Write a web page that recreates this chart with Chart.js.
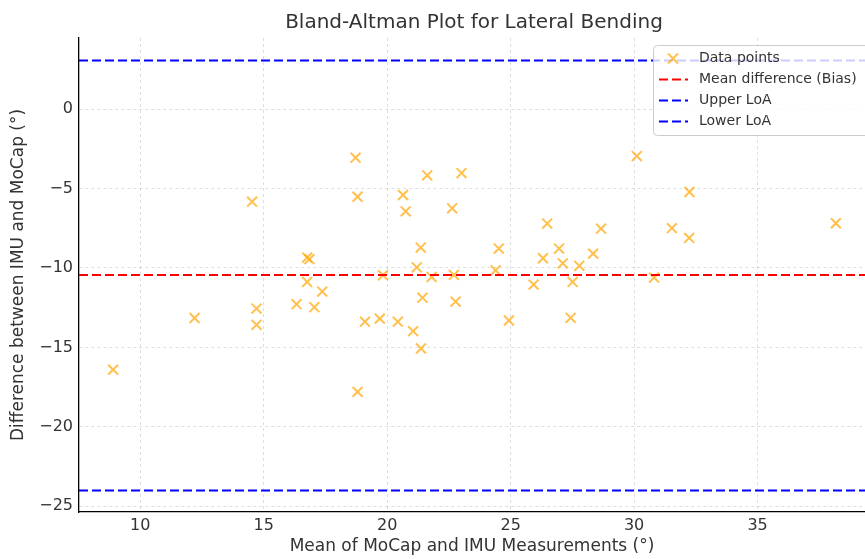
<!DOCTYPE html>
<html>
<head>
<meta charset="utf-8">
<title>Bland-Altman Plot for Lateral Bending</title>
<script src="https://cdn.jsdelivr.net/npm/chart.js@4.4.1/dist/chart.umd.min.js"></script>
<style>
    body { margin: 0; background: #fff; }
    canvas { display: block; }
</style>
</head>
<body>
<canvas id="baChart" width="865" height="559"></canvas>
<script>
// Mean of MoCap and IMU (x) and their difference (y)
const MEAN_VALUES = [8.9, 12.2, 14.53, 14.71, 14.71, 16.33, 16.76, 16.85, 16.76, 17.05,
    17.37, 18.72, 18.80, 18.80, 19.1, 19.70, 19.83, 20.43, 20.64, 20.75,
    21.05, 21.2, 21.36, 21.43, 21.37, 21.62, 21.80, 22.63, 22.70, 22.77,
    23.01, 24.39, 24.52, 24.93, 25.93, 26.31, 26.48, 26.96, 27.11, 27.43,
    27.51, 27.78, 28.34, 28.66, 30.11, 30.81, 31.53, 32.24, 32.23, 38.17];
const DIFF_VALUES = [-16.4, -13.15, -5.83, -12.56, -13.58, -12.28, -9.35, -9.45, -10.88, -12.47,
    -11.49, -3.06, -5.52, -17.8, -13.38, -13.19, -10.46, -13.38, -5.41, -6.44,
    -13.98, -9.96, -8.72, -11.87, -15.07, -4.17, -10.57, -6.25, -10.44, -12.12,
    -4.03, -10.15, -8.78, -13.31, -11.05, -9.39, -7.21, -8.78, -9.71, -13.14,
    -10.88, -9.87, -9.1, -7.53, -2.96, -10.61, -7.5, -5.22, -8.11, -7.19];

// Reference lines
const BIAS = -10.45;
const UPPER_LOA = 3.06;
const LOWER_LOA = -24.0;

// Axis ranges and ticks
const X_RANGE = [7.52, 39.35];
const Y_RANGE = [-25.36, 4.47];
const X_TICKS = [10, 15, 20, 25, 30, 35];
const Y_TICKS = [-25, -20, -15, -10, -5, 0];

const FONT = 'DejaVu Sans';
const TEXT_COLOR = '#333333';
const GRID_COLOR = 'rgba(0, 0, 0, 0.13)';
const POINT_COLOR = 'rgba(255, 165, 0, 0.7)';

function hLine(value) {
    return X_RANGE.map(x => ({ x: x, y: value }));
}

function fmtTick(v) {
    return v < 0 ? '\u2212' + Math.abs(v) : String(v);
}

// Title + legend box drawn over the plot, matplotlib style
const overlayPlugin = {
    id: 'overlay',
    afterDraw(chart) {
        const ctx = chart.ctx;
        ctx.save();

        // Title
        ctx.fillStyle = TEXT_COLOR;
        ctx.font = '20px "' + FONT + '"';
        ctx.textAlign = 'center';
        ctx.textBaseline = 'middle';
        ctx.fillText('Bland-Altman Plot for Lateral Bending', 474, 23);

        // Legend box
        const bx = 653.5, by = 45.5, bw = 230, bh = 90;
        ctx.beginPath();
        ctx.roundRect(bx, by, bw, bh, 4);
        ctx.fillStyle = 'rgba(255, 255, 255, 0.8)';
        ctx.fill();
        ctx.strokeStyle = '#cccccc';
        ctx.lineWidth = 1;
        ctx.stroke();

        const rowY = [58.5, 79.5, 100.5, 121.5];
        chart.data.datasets.forEach((ds, i) => {
            const y = rowY[i];
            if (ds.showLine) {
                ctx.beginPath();
                ctx.setLineDash(ds.borderDash);
                ctx.strokeStyle = ds.borderColor;
                ctx.lineWidth = ds.borderWidth;
                ctx.moveTo(659, y);
                ctx.lineTo(688, y);
                ctx.stroke();
                ctx.setLineDash([]);
            } else {
                const r = 5;
                ctx.beginPath();
                ctx.strokeStyle = POINT_COLOR;
                ctx.lineWidth = 2;
                ctx.moveTo(673 - r, y - r);
                ctx.lineTo(673 + r, y + r);
                ctx.moveTo(673 - r, y + r);
                ctx.lineTo(673 + r, y - r);
                ctx.stroke();
            }
            ctx.fillStyle = TEXT_COLOR;
            ctx.font = '14px "' + FONT + '"';
            ctx.textAlign = 'left';
            ctx.fillText(ds.label, 699, y);
        });
        ctx.restore();
    }
};

const lineStyle = (label, color, value) => ({
    type: 'line',
    label: label,
    data: hLine(value),
    showLine: true,
    borderColor: color,
    borderWidth: 2,
    borderDash: [9, 4],
    pointRadius: 0,
    fill: false,
    order: 1
});

const ctx = document.getElementById('baChart').getContext('2d');
new Chart(ctx, {
    type: 'scatter',
    data: {
        datasets: [
            {
                label: 'Data points',
                data: MEAN_VALUES.map((x, i) => ({ x: x, y: DIFF_VALUES[i] })),
                pointStyle: 'crossRot',
                pointRadius: 7,
                pointBorderWidth: 2,
                borderColor: POINT_COLOR,
                backgroundColor: POINT_COLOR,
                showLine: false,
                order: 2
            },
            lineStyle('Mean difference (Bias)', '#ff0000', BIAS),
            lineStyle('Upper LoA', '#0000ff', UPPER_LOA),
            lineStyle('Lower LoA', '#0000ff', LOWER_LOA)
        ]
    },
    options: {
        responsive: false,
        animation: false,
        devicePixelRatio: 1,
        layout: { autoPadding: false, padding: { top: 38, right: 0, bottom: 0, left: 0 } },
        plugins: {
            legend: { display: false },
            title: { display: false },
            tooltip: { enabled: false }
        },
        scales: {
            x: {
                type: 'linear',
                min: X_RANGE[0],
                max: X_RANGE[1],
                afterBuildTicks: scale => { scale.ticks = X_TICKS.map(v => ({ value: v })); },
                afterFit: scale => { scale.height = 47; },
                grid: { color: GRID_COLOR, lineWidth: 1, drawTicks: false },
                border: { display: true, color: '#000', width: 1.3, dash: [3, 3] },
                ticks: {
                    padding: 4,
                    color: TEXT_COLOR,
                    font: { family: FONT, size: 16 },
                    callback: v => fmtTick(v)
                },
                title: {
                    display: true,
                    text: 'Mean of MoCap and IMU Measurements (°)',
                    color: TEXT_COLOR,
                    font: { family: FONT, size: 17 },
                    padding: { top: 0, bottom: 2 }
                }
            },
            y: {
                type: 'linear',
                min: Y_RANGE[0],
                max: Y_RANGE[1],
                afterBuildTicks: scale => { scale.ticks = Y_TICKS.map(v => ({ value: v })); },
                afterFit: scale => { scale.width = 79; },
                grid: { color: GRID_COLOR, lineWidth: 1, drawTicks: false },
                border: { display: true, color: '#000', width: 1.3, dash: [3, 3] },
                ticks: {
                    padding: 6,
                    color: TEXT_COLOR,
                    font: { family: FONT, size: 16 },
                    callback: v => fmtTick(v)
                },
                title: {
                    display: true,
                    text: 'Difference between IMU and MoCap (°)',
                    color: TEXT_COLOR,
                    font: { family: FONT, size: 17 },
                    padding: { top: 8, bottom: 0 }
                }
            }
        }
    },
    plugins: [overlayPlugin]
});
</script>
</body>
</html>
